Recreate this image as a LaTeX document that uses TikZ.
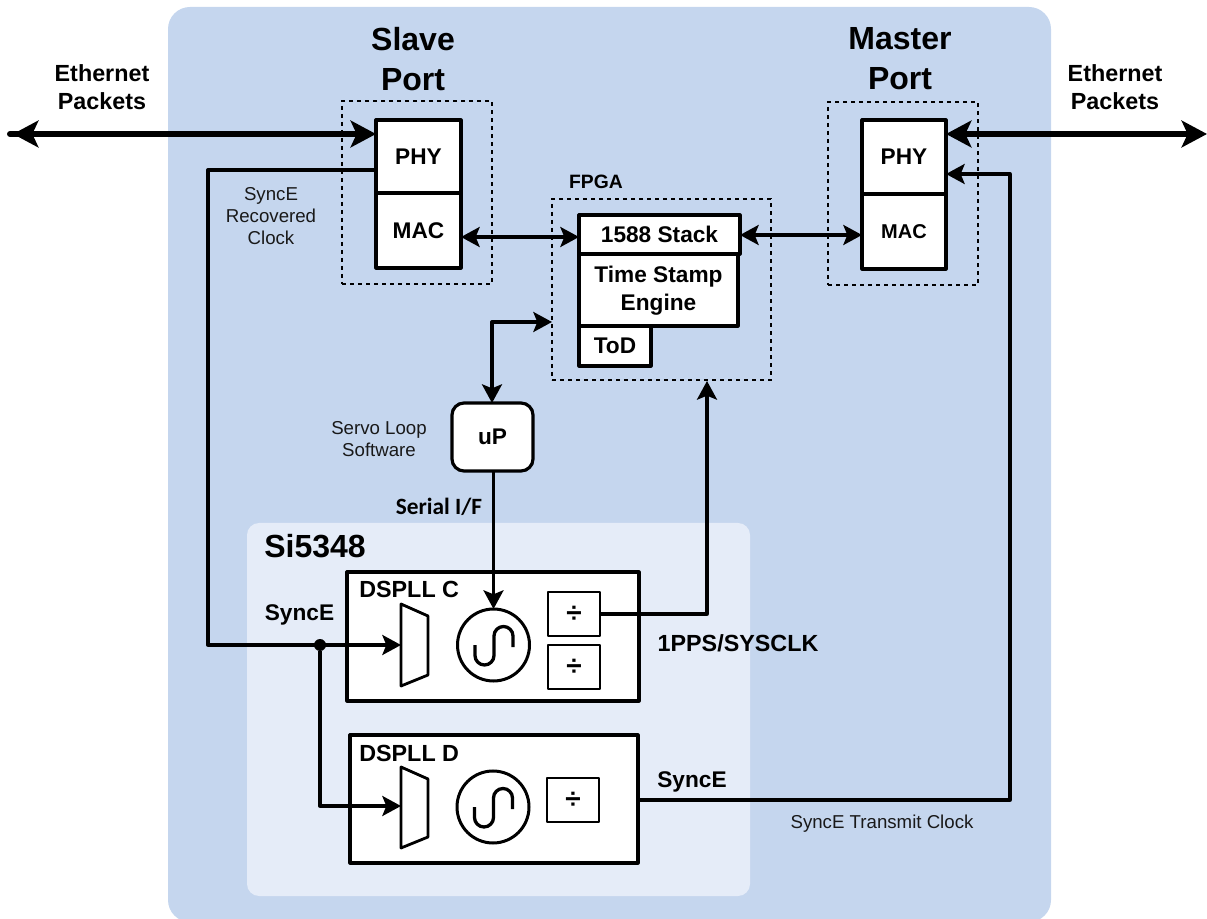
\documentclass[tikz,border=0pt]{standalone}
\usepackage{fontspec}
\setmainfont{Liberation Sans}
\newfontfamily\carlitofont{Carlito}
\usetikzlibrary{arrows.meta,calc}
\definecolor{outerblue}{HTML}{C5D6EE}
\definecolor{innerblue}{HTML}{E5ECF8}
\newcommand{\fs}[2]{\fontsize{#1pt}{#2pt}\selectfont}
\newcommand{\bx}[7][boxn]{\node[#1,minimum width={(#5-#3)*0.75pt},minimum height={(#6-#4)*0.75pt}] (#2) at ({(#3+#5)/2},{(#4+#6)/2}) {#7};}
\newcommand{\wave}[2]{\draw[wire,line cap=butt,shift={(#1,#2)}] (-18.5,0) -- (-18.5,10.5) .. controls (-18.5,15.7) and (-14.3,20) .. (-9,20) .. controls (-3.8,20) and (0.5,15.7) .. (0.5,10.5) -- (0.5,-9) .. controls (0.5,-14.2) and (4.7,-18.5) .. (10,-18.5) .. controls (15.2,-18.5) and (19.5,-14.2) .. (19.5,-9) -- (19.5,2);}
\tikzset{
  boxn/.style={draw=black,fill=white,line width=3.2*0.75pt,inner sep=0pt,outer sep=0pt,align=center,line join=round,font=\bfseries\fs{17}{21}},
  thinbox/.style={boxn,line width=2.6*0.75pt},
  dashbox/.style={draw=black,line width=2.2*0.75pt,dash pattern=on 3pt off 3pt,inner sep=0pt,outer sep=0pt},
  wire/.style={draw=black,line width=3.3*0.75pt,line join=round},
  heavy/.style={draw=black,line width=6*0.75pt,line join=round},
  tipS/.tip={Stealth[length=14pt,width=15pt,inset=3pt]},
  tipL/.tip={Stealth[length=19pt,width=20pt,inset=4.5pt]},
  title/.style={font=\bfseries\fs{24}{30},align=center,inner sep=0pt},
  boldlabel/.style={font=\bfseries\fs{17}{21},align=center,inner sep=0pt},
  plainlabel/.style={font=\fs{14}{16.5},align=center,inner sep=0pt,text=black!90},
  muxshape/.style={draw=black,fill=white,line width=2.8*0.75pt,line join=round},
}
\begin{document}
\begin{tikzpicture}[x=0.75pt,y=-0.75pt]
\useasboundingbox (0,0) rectangle (1207,919);
% backgrounds
\begin{scope}
\clip (0,0) rectangle (1207,919);
\fill[outerblue,rounded corners=16.5pt] (168,7) rectangle (1051,922);
\end{scope}
\fill[innerblue,rounded corners=9pt] (247,523) rectangle (750,896);
% dashed groups
\bx[dashbox]{slaveG}{342}{101}{492}{284}{}
\bx[dashbox]{masterG}{828}{102}{978}{285}{}
\bx[dashbox]{fpgaG}{552}{199}{771}{380}{}
% PLL boxes
\bx{pllC}{347}{572}{639}{701}{}
\bx{pllD}{350}{735}{638}{863}{}
% blocks
\bx{phyS}{376}{120}{461}{193}{PHY}
\bx{macS}{376}{193}{461}{268}{MAC}
\bx{phyM}{862}{120}{946}{194}{PHY}
\bx[boxn,font=\bfseries\fs{15}{18}]{macM}{862}{194}{946}{269}{MAC}
\bx{tse}{579}{254}{738}{326}{}
\bx{stack}{579}{215}{740}{254}{1588 Stack}
\bx{tod}{579}{326}{651}{366}{ToD}
\bx[boxn,rounded corners=9pt]{up}{452}{403}{533}{471}{uP}
\node[boldlabel] (tseT) at (658.5,291) {Time Stamp\\Engine};
% mux shapes
\draw[muxshape] (401,604) -- (428,616) -- (428,675) -- (401,686) -- cycle;
\draw[muxshape] (401,767) -- (428,779) -- (428,837) -- (401,848) -- cycle;
\coordinate (muxC) at (401,645);
\coordinate (muxD) at (401,806);
% oscillators
\node[draw=black,fill=white,line width=2.25pt,circle,inner sep=0pt,outer sep=0pt,minimum size={72*0.75pt}] (oscC) at (493.5,645) {};
\node[draw=black,fill=white,line width=2.25pt,circle,inner sep=0pt,outer sep=0pt,minimum size={72*0.75pt}] (oscD) at (493,807) {};
\wave{493.5}{645}
\wave{493}{807}
% dividers
\bx[thinbox,font=\bfseries\fs{21}{24}]{divC1}{548}{592}{600}{636}{÷}
\bx[thinbox,font=\bfseries\fs{21}{24}]{divC2}{548}{645}{600}{689}{÷}
\bx[thinbox,font=\bfseries\fs{21}{24}]{divD}{547}{778}{599}{822}{÷}
% free ends
\coordinate (ethL) at (10,134);
\coordinate (ethLtail) at (38,134);
\coordinate (ethLtip) at (13,134);
\coordinate (ethR) at (1207,134);
\coordinate (syncS) at (208,170);
\coordinate (syncM) at (1010,174);
\coordinate (syncOut) at (638,800);
\coordinate (fpgaIn) at (552,322);
\coordinate (upTop) at (492,403);
\coordinate (fpgaBot) at (707,381);
\coordinate (macSR) at (461,237);
\coordinate (stackL) at (579,237);
\coordinate (stackR) at (740,235);
\coordinate (macML) at (862,235);
% heavy links
\draw[heavy,line cap=round] (ethL) -- (ethLtail);
\draw[heavy,-{tipL}] (ethLtail) -- (ethLtip);
\draw[heavy,-{tipL}] (ethLtail) -- (ethL -| phyS.west);
\draw[heavy,{tipL}-{tipL}] (phyM.east |- ethR) -- (ethR);
% wires
\draw[wire,-{tipS}] (phyS.west |- syncS) -- (syncS) -- (syncS |- muxC) -- (muxC);
\node[circle,fill=black,inner sep=0pt,outer sep=0pt,minimum size={12*0.75pt}] (junc) at (320,645) {};
\draw[wire,-{tipS}] (junc) |- (muxD);
\draw[wire,{tipS}-{tipS}] (macSR) -- (stackL);
\draw[wire,{tipS}-{tipS}] (stackR) -- (macML);
\draw[wire,{tipS}-{tipS}] (upTop) |- (fpgaIn);
\draw[wire,-{tipS}] (oscC.north |- up.south) -- (oscC.north);
\draw[wire,-{tipS}] (divC1.east) -| (fpgaBot);
\draw[wire,-{tipS}] (syncOut) -| (syncM) -- (phyM.east |- syncM);
% labels
\node[title] (tSlave) at (413,59) {Slave\\Port};
\node[title] (tMaster) at (900,59) {Master\\Port};
\node[title,anchor=west] (tSi) at (264,546) {Si5348};
\node[font=\bfseries\fs{17.5}{21},align=center,inner sep=0pt] (ethLT) at (102,87) {Ethernet\\Packets};
\node[font=\bfseries\fs{17.5}{21},align=center,inner sep=0pt] (ethRT) at (1115,87) {Ethernet\\Packets};
\node[plainlabel] (recT) at (271,216) {SyncE\\Recovered\\Clock};
\node[font=\bfseries\fs{14.5}{18},inner sep=0pt] (fpgaT) at (596,182) {FPGA};
\node[plainlabel] (servoT) at (379,439) {Servo Loop\\Software};
\node[font=\carlitofont\bfseries\fs{17.5}{21},inner sep=0pt] (serT) at (439,507) {Serial I/F};
\node[font=\bfseries\fs{17.5}{21},inner sep=0pt,anchor=west] (dC) at (359,589) {DSPLL C};
\node[font=\bfseries\fs{17.5}{21},inner sep=0pt,anchor=west] (dD) at (359,753) {DSPLL D};
\node[boldlabel] (sIn) at (299.5,615) {SyncE};
\node[boldlabel] (sOut) at (692,782) {SyncE};
\node[font=\bfseries\fs{17.5}{21},inner sep=0pt] (ppsT) at (738,643) {1PPS/SYSCLK};
\node[plainlabel] (txT) at (882,824) {SyncE Transmit Clock};
\end{tikzpicture}
\end{document}
